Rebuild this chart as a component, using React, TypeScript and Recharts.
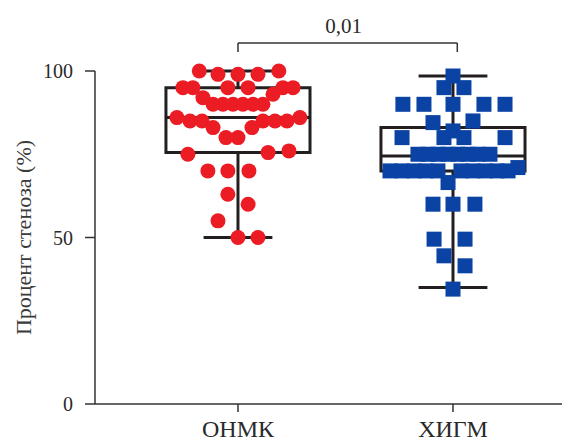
import React from 'react';
import {
    ScatterChart,
    Scatter,
    XAxis,
    YAxis,
    ReferenceArea,
    ReferenceLine,
    Label,
} from 'recharts';

const categories = ['ОНМК', 'ХИГМ'];
const yTicks = [0, 50, 100];
const pValueLabel = '0,01';

// box stats per group: [min, q1, median, q3, max]
const onmkBox = [50, 75.5, 86, 95, 100];
const higmBox = [35, 70, 74.5, 83, 98.5];

// individual stenosis values and horizontal jitter (in category units)
const onmkValues = [
    100, 99, 99, 99, 100,
    95, 95, 95, 95, 95, 95, 93, 92,
    90, 90, 90, 90, 90, 90,
    86, 85, 85, 85, 85, 85, 86,
    83, 83, 80, 80,
    75, 75.5, 76,
    70, 70, 70, 63, 60, 55, 50, 50,
];
const onmkJitter = [
    -0.18, -0.093, 0, 0.093, 0.19,
    -0.256, -0.21, -0.047, 0.047, 0.209, 0.256, 0.163, -0.163,
    -0.116, -0.07, -0.023, 0.023, 0.07, 0.116,
    -0.284, -0.223, -0.167, 0.116, 0.172, 0.228, 0.288,
    -0.116, 0.065, -0.056, 0,
    -0.233, 0.14, 0.237,
    -0.14, -0.047, 0.051, -0.047, 0.047, -0.093, 0, 0.093,
];

const higmValues = [
    98.5, 95, 95,
    90, 90, 90, 90, 90,
    84.5, 85, 82,
    80, 80, 80, 80,
    75, 75, 75, 75, 75, 75, 75, 75,
    70, 70, 70, 70, 70, 70, 70, 70, 70, 70, 71,
    66.5, 60, 60, 60, 49.5, 49.5, 44.5, 41.5, 34.5,
];
const higmJitter = [
    0, -0.042, 0.051,
    -0.233, -0.135, 0, 0.144, 0.242,
    -0.093, 0.093, 0,
    -0.237, -0.042, 0.051, 0.242,
    -0.163, -0.116, -0.07, -0.023, 0.023, 0.07, 0.116, 0.172,
    -0.293, -0.237, -0.181, -0.126, -0.07, 0.037, 0.093, 0.149, 0.205, 0.256, 0.302,
    -0.023, -0.093, 0, 0.102, -0.088, 0.056, -0.042, 0.056, 0,
];

const onmkData = onmkValues.map((v, i) => ({ x: 0 + onmkJitter[i], y: v }));
const higmData = higmValues.map((v, i) => ({ x: 1 + higmJitter[i], y: v }));

const FONT = '"Liberation Serif", "Times New Roman", serif';
const INK = '#231f20';
const RED = '#ec1c24';
const BLUE = '#0a43a3';
const BOX_HALF = 0.335;
const CAP_HALF = 0.16;

const RedDot = (p: any) => <circle cx={p.cx} cy={p.cy} r={7.5} fill={RED} />;
const BlueSquare = (p: any) => (
    <rect x={p.cx - 7.5} y={p.cy - 7.5} width={15} height={15} fill={BLUE} />
);

const boxElements = (pos: number, stats: number[], key: string) => {
    const [min, q1, med, q3, max] = stats;
    const line = { stroke: INK, strokeWidth: 3, ifOverflow: 'visible' as const };
    return [
        <ReferenceLine key={`${key}-wl`} segment={[{ x: pos, y: min }, { x: pos, y: q1 }]} {...line} />,
        <ReferenceLine key={`${key}-wh`} segment={[{ x: pos, y: q3 }, { x: pos, y: max }]} {...line} />,
        <ReferenceLine key={`${key}-cl`} segment={[{ x: pos - CAP_HALF, y: min }, { x: pos + CAP_HALF, y: min }]} {...line} />,
        <ReferenceLine key={`${key}-ch`} segment={[{ x: pos - CAP_HALF, y: max }, { x: pos + CAP_HALF, y: max }]} {...line} />,
        <ReferenceArea
            key={`${key}-box`}
            x1={pos - BOX_HALF}
            x2={pos + BOX_HALF}
            y1={q1}
            y2={q3}
            fill="none"
            fillOpacity={0}
            stroke={INK}
            strokeWidth={3}
            ifOverflow="visible"
        />,
        <ReferenceLine key={`${key}-med`} segment={[{ x: pos - BOX_HALF, y: med }, { x: pos + BOX_HALF, y: med }]} {...line} />,
    ];
};

const YTitle = (props: any) => {
    const vb = props.viewBox || { x: 15, y: 71, height: 333 };
    const cx = vb.x + 8;
    const cy = vb.y + vb.height / 2;
    return (
        <text
            x={cx}
            y={cy}
            transform={`rotate(-90 ${cx} ${cy})`}
            textAnchor="middle"
            dominantBaseline="central"
            fontFamily={FONT}
            fontSize={22}
            fill="#3a3a3a"
        >
            Процент стеноза (%)
        </text>
    );
};

const App: React.FC = () => {
    const bracket = { stroke: '#333', strokeWidth: 1.5, ifOverflow: 'visible' as const };
    return (
        <div style={{ position: 'absolute', left: 0, top: 0, background: '#fff' }}>
            <ScatterChart
                width={562}
                height={442}
                margin={{ top: 71, right: 0, bottom: 8, left: 15 }}
            >
                <XAxis
                    type="number"
                    dataKey="x"
                    domain={[-0.665, 1.507]}
                    ticks={[0, 1]}
                    tickFormatter={(v: number) => categories[v] ?? ''}
                    height={30}
                    tickSize={8}
                    tickMargin={8}
                    axisLine={{ stroke: '#333', strokeWidth: 1.5 }}
                    tickLine={{ stroke: '#333', strokeWidth: 1.5 }}
                    tick={{ fill: '#2a2a2a', fontFamily: FONT, fontSize: 24 }}
                />
                <YAxis
                    type="number"
                    dataKey="y"
                    domain={[0, 100]}
                    ticks={yTicks}
                    width={80}
                    tickSize={10}
                    tickMargin={12}
                    axisLine={{ stroke: '#333', strokeWidth: 1.5 }}
                    tickLine={{ stroke: '#333', strokeWidth: 1.5 }}
                    tick={{ fill: '#2a2a2a', fontFamily: FONT, fontSize: 20 }}
                >
                    <Label content={<YTitle />} />
                </YAxis>

                {boxElements(0, onmkBox, 'onmk')}
                {boxElements(1, higmBox, 'higm')}

                {/* significance bracket between groups */}
                <ReferenceLine segment={[{ x: 0, y: 108.4 }, { x: 1.02, y: 108.4 }]} {...bracket}>
                    <Label
                        value={pValueLabel}
                        position="top"
                        offset={10}
                        dx={-4}
                        fill="#2a2a2a"
                        fontFamily={FONT}
                        fontSize={21}
                    />
                </ReferenceLine>
                <ReferenceLine segment={[{ x: 0, y: 108.4 }, { x: 0, y: 105.7 }]} {...bracket} />
                <ReferenceLine segment={[{ x: 1.02, y: 108.4 }, { x: 1.02, y: 105.7 }]} {...bracket} />

                <Scatter data={onmkData} dataKey="y" shape={RedDot} isAnimationActive={false} />
                <Scatter data={higmData} dataKey="y" shape={BlueSquare} isAnimationActive={false} />
            </ScatterChart>
        </div>
    );
};

export default App;
